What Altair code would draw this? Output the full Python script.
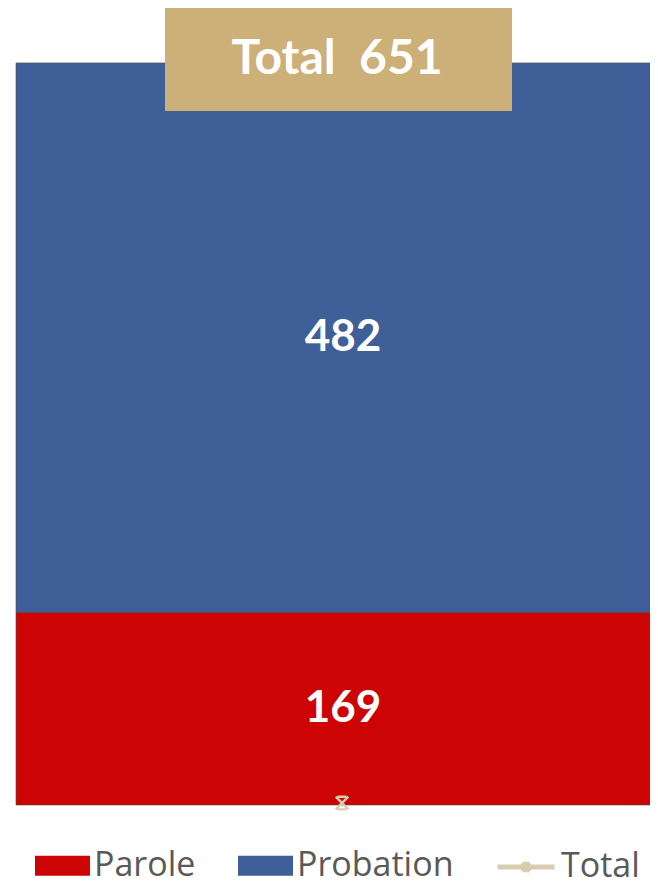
import altair as alt
import pandas as pd

# ---- data ----
series = ["Parole", "Probation"]
values = [169, 482]
colors = ["#CC0404", "#3F5F98"]
category = ["All"]
total_name = "Total"

total = sum(values)

bars = pd.DataFrame({
    "cat": category * len(series),
    "series": series,
    "value": values,
    "ord": list(range(len(series))),
})
cum = bars["value"].cumsum()
bars["mid"] = cum - bars["value"] / 2

tot = pd.DataFrame({
    "cat": category,
    "s": [total_name],
    "total": [total],
    "zero": [0],
    "label": [f"Total\u00a0 {total}"],
})

xenc = alt.X("cat:N", scale=alt.Scale(paddingInner=0, paddingOuter=0.00631, align=1), axis=None)
yscale = alt.Scale(domain=[0, 699.2], nice=False)

legend_font = "Open Sans"

bar = alt.Chart(bars).mark_bar(strokeWidth=1, strokeOpacity=0.6, stroke="#4a4a4a").encode(
    x=xenc,
    y=alt.Y("value:Q", stack="zero", scale=yscale, axis=None),
    color=alt.Color(
        "series:N",
        scale=alt.Scale(domain=series, range=colors),
        legend=alt.Legend(
            title=None, orient="none", legendX=27, legendY=830,
            direction="horizontal",
            symbolType="M-1,-0.364H1V0.364H-1Z", symbolSize=3025,
            symbolStrokeWidth=0, symbolOpacity=1,
            labelFontSize=34, labelFont=legend_font, labelColor="#595959",
            labelLimit=400, columnPadding=42, labelOffset=4, padding=0,
        ),
    ),
    order=alt.Order("ord:Q"),
)

labels = alt.Chart(bars).mark_text(
    font="Lato", fontSize=44, fontWeight="bold", color="white",
    baseline="middle", dx=10,
).encode(
    x=xenc,
    y=alt.Y("mid:Q", scale=yscale, axis=None),
    text="value:Q",
)

marker = alt.Chart(tot).mark_point(
    shape="M-1,-1L1,1M1,-1L-1,1M-0.7,-1H0.7M-0.7,1H0.7",
    size=160, strokeWidth=2.4, opacity=1, filled=False, xOffset=9, yOffset=-2,
).encode(
    x=xenc,
    y=alt.Y("zero:Q", scale=yscale, axis=None),
    stroke=alt.Stroke(
        "s:N",
        scale=alt.Scale(domain=[total_name], range=["#D8CDB0"]),
        legend=alt.Legend(
            title=None, orient="none", legendX=487, legendY=828,
            symbolType="M-1,0H1M-0.14,-0.14L0.14,0.14M0.14,-0.14L-0.14,0.14M0,-0.18V0.18",
            symbolSize=3249, symbolStrokeWidth=5,
            labelFontSize=34, labelFont=legend_font, labelColor="#595959",
            labelLimit=400, labelOffset=4, padding=0,
        ),
    ),
)

box = alt.Chart(tot).mark_point(
    shape="M-1,-0.3H1V0.3H-1Z", size=120409, filled=True,
    fill="#CDAF78", opacity=1, strokeWidth=0, yOffset=-4, xOffset=5.5,
).encode(
    x=xenc,
    y=alt.Y("total:Q", scale=yscale, axis=None),
)

box_text = alt.Chart(tot).mark_text(
    font="Lato", fontSize=48, fontWeight="bold", color="white",
    baseline="middle", yOffset=-3, dx=4,
).encode(
    x=xenc,
    y=alt.Y("total:Q", scale=yscale, axis=None),
    text="label:N",
)

chart = alt.layer(bar, labels, marker, box, box_text).properties(
    width=642, height=797,
    padding={"left": 0, "top": 0, "right": 0, "bottom": 85},
    autosize=alt.AutoSizeParams(type="none"),
).configure_view(stroke=None).resolve_scale(color="independent")

chart.save("out.html", embed_options={"renderer": "svg", "actions": False})
